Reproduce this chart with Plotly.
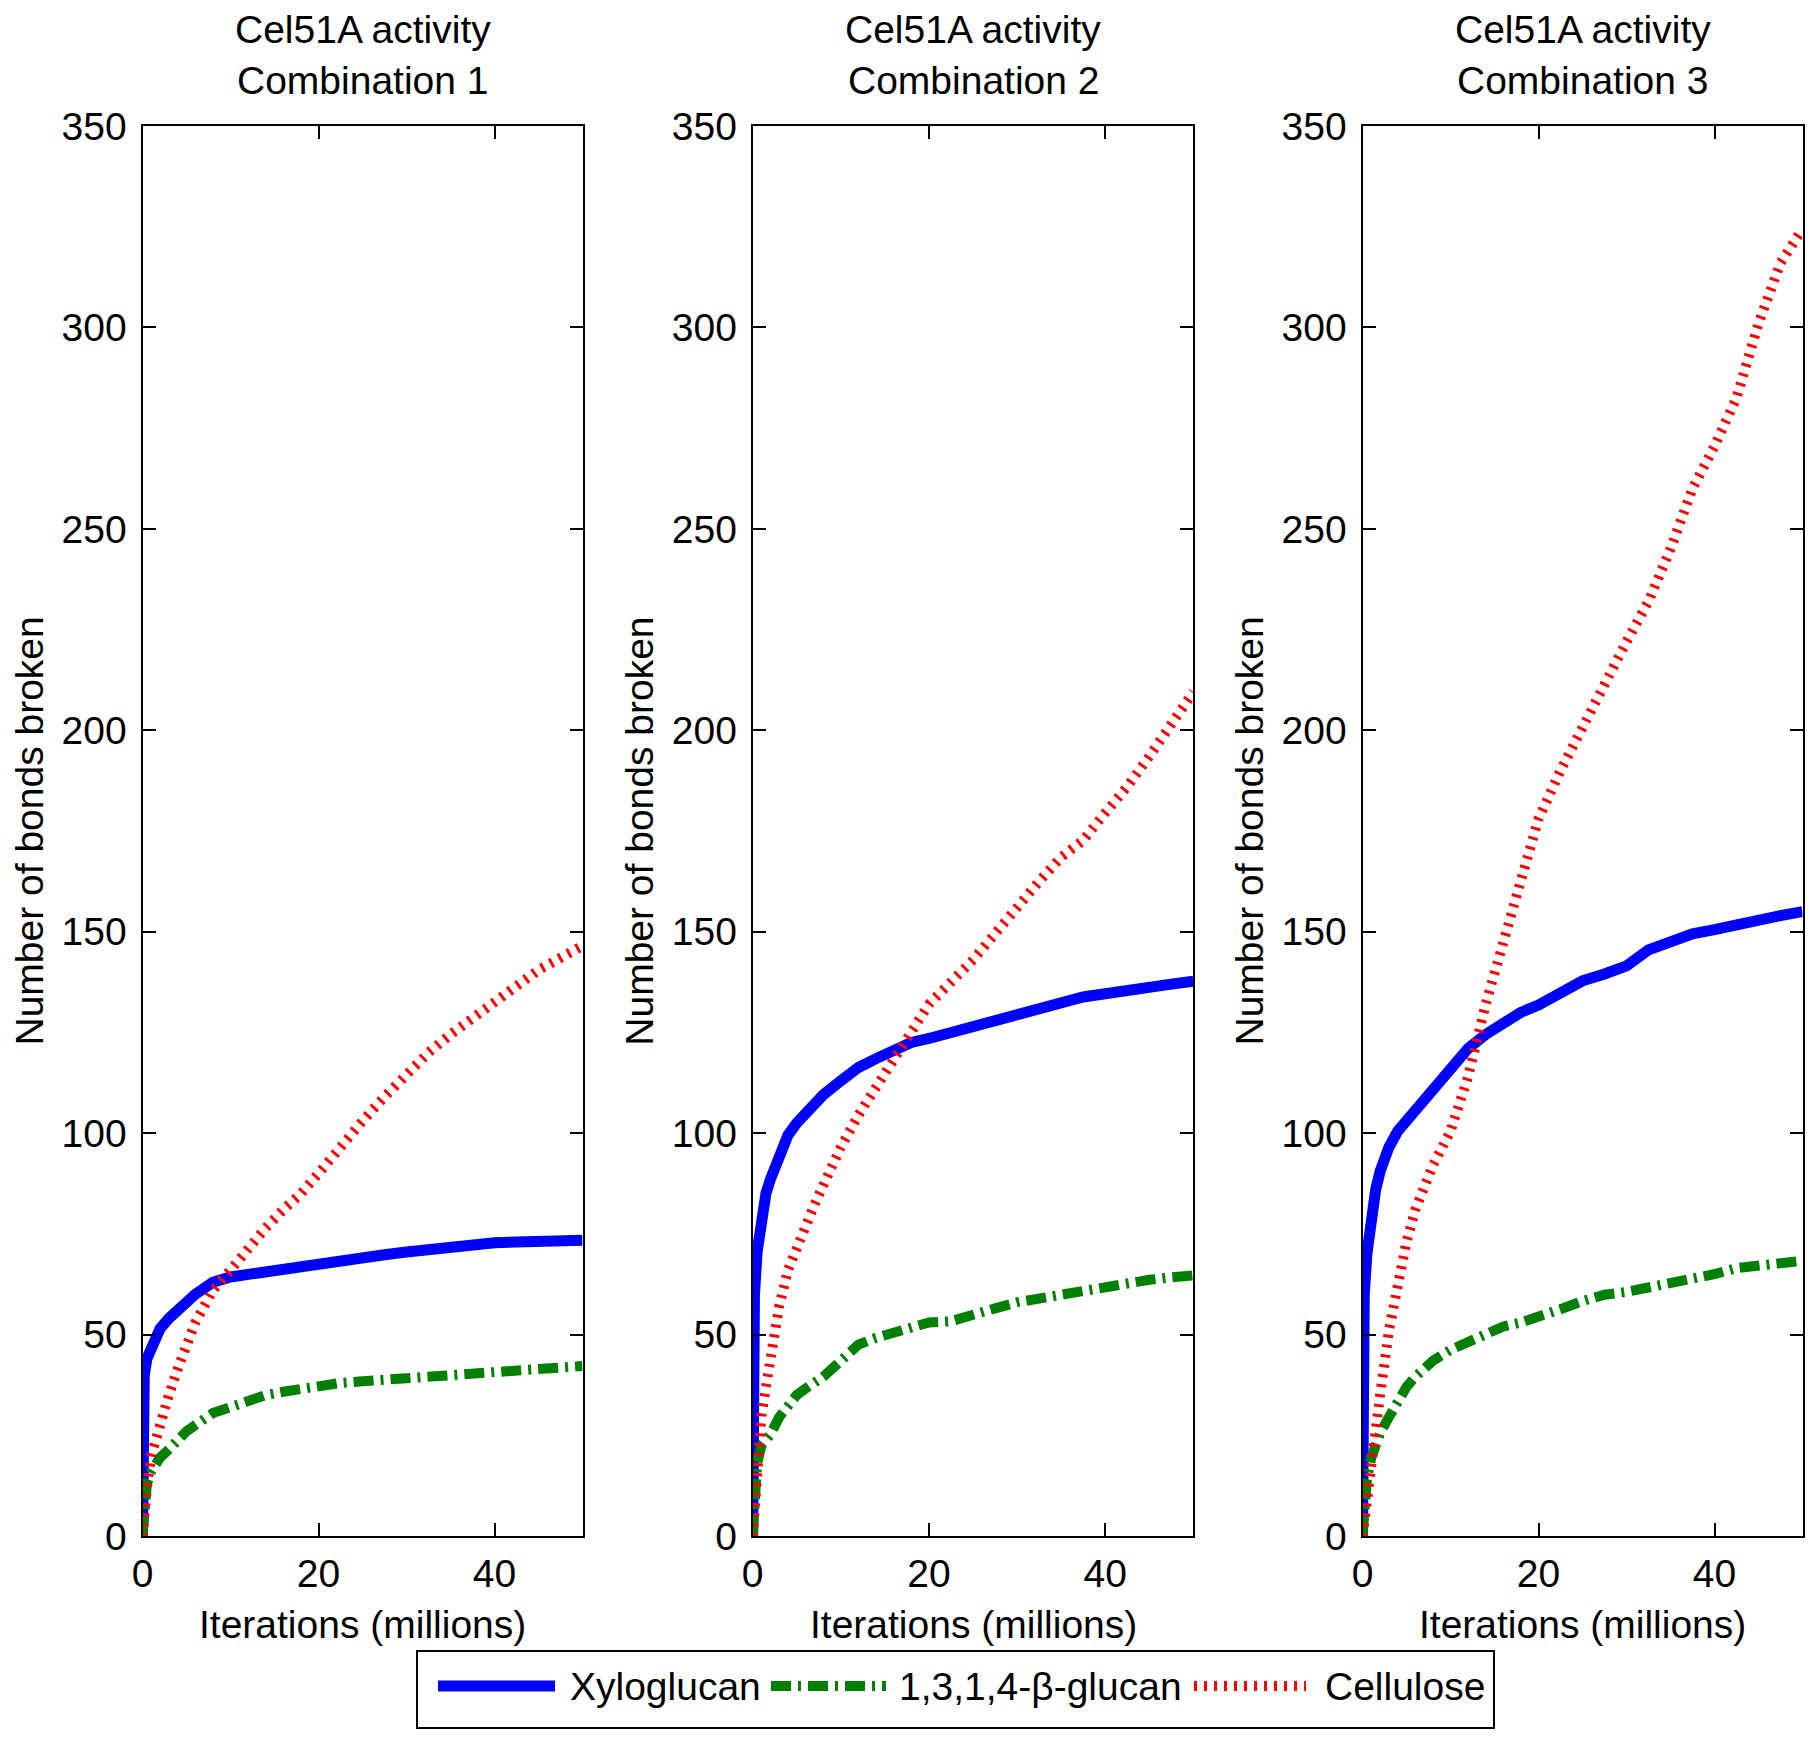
import plotly.graph_objects as go

# ---------------- data ----------------
iterations = [0, 0.1, 0.2, 0.5, 1, 1.5, 2, 3, 4, 5, 6, 7, 8, 10, 12, 14, 16, 18, 20,
              22.5, 25, 27.5, 30, 32.5, 35, 37.5, 40, 42.5, 45, 47.5, 50]

xyloglucan_c1 = [0, 25, 40, 44, 47, 49.5, 51.5, 54, 56, 58.5, 60, 61.5, 63, 64.3, 65, 65.5,
                 66, 66.8, 67.5, 68.3, 69, 69.8, 70.5, 71.2, 72, 72.4, 72.8, 73, 73.1, 73.2, 73.4]
glucan_c1 = [0, 5, 9, 13, 16, 18, 19.5, 21.5, 24, 26, 27.5, 29, 30.5, 32, 33.5, 35, 35.8,
             36.6, 37.3, 38, 38.4, 38.8, 39.2, 39.8, 40.3, 40.8, 41.2, 41.6, 41.8, 42, 42.2]
cellulose_c1 = [0, 3, 6, 12, 20, 24, 28, 35, 41.5, 48, 53, 57, 61, 66, 71.5, 76.5, 81, 85,
                90, 97, 103, 109, 114.5, 120, 124.5, 128.5, 132.7, 136.5, 140.5, 143.5, 146.5]

xyloglucan_c2 = [0, 50, 60, 70.5, 79, 85, 88.5, 95, 99.5, 102.5, 105, 107.5, 109.5, 113, 116.3,
                 118.5, 120.5, 122.5, 123.5, 125, 126.5, 128, 129.2, 130.6, 132.2, 133.8, 134.6,
                 135.2, 136, 137, 137.7]
glucan_c2 = [0, 6, 12, 18, 22.5, 24, 25.2, 29.5, 32.5, 35, 36.6, 38, 39.5, 43.5, 47.5, 49.2,
             50.6, 52, 53, 53.3, 54.6, 56.5, 58, 59, 59.7, 61, 62, 62.8, 63.6, 64.2, 64.7]
cellulose_c2 = [0, 4, 8, 14, 30, 37, 43.4, 57, 66, 72, 77.5, 82.2, 87, 96.5, 104.5, 111.5, 118,
                125, 132, 137.5, 143, 149.5, 156.5, 162.5, 168.5, 172.7, 179.5, 186, 193.5,
                201.5, 209.5]

xyloglucan_c3 = [0, 45, 60, 70, 79, 86, 90.5, 96.5, 100.5, 103, 106, 108.5, 111, 116.5, 121,
                 124.5, 127.5, 130, 131.8, 135, 137.8, 139.5, 141.5, 145.5, 147.8, 149.5, 150.5,
                 151.8, 152.8, 154, 155]
glucan_c3 = [0, 3, 5, 14, 19.5, 22.5, 25.5, 29.5, 33.5, 37, 39.5, 41.7, 43.5, 46.2, 48.3, 50.2,
             52, 53, 54.2, 56.3, 58.3, 59.9, 60.6, 61.6, 63, 63.8, 65, 66.5, 67.3, 67.8, 68.3]
cellulose_c3 = [0, 2, 4, 8, 20, 28, 35, 51, 63, 73, 81, 87, 92, 100.5, 114, 132, 147, 163.5,
                178, 190, 201, 211, 222, 232, 245, 260, 270.5, 282.5, 301, 316, 324.5]

panel_titles = [["Cel51A activity", "Combination 1"],
                ["Cel51A activity", "Combination 2"],
                ["Cel51A activity", "Combination 3"]]
series_names = ["Xyloglucan", "1,3,1,4-\u03b2-glucan", "Cellulose"]
x_title = "Iterations (millions)"
y_title = "Number of bonds broken"
x_ticks = [0, 20, 40]
y_ticks = [0, 50, 100, 150, 200, 250, 300, 350]

panels = [
    [xyloglucan_c1, glucan_c1, cellulose_c1],
    [xyloglucan_c2, glucan_c2, cellulose_c2],
    [xyloglucan_c3, glucan_c3, cellulose_c3],
]

# ---------------- styling ----------------
W, H = 1819, 1738
FONT = "Liberation Sans, Arial, Helvetica, sans-serif"
FS = 39
colors = ["#0000FF", "#008000", "#FF0000"]
widths = [11, 10, 10]
dashes = ["solid", "20px,7px,3px,7px", "3px,7px"]

x_domains = [(142.5, 582.5), (752.7, 1193.3), (1362.5, 1802.5)]
y_top, y_bot = 126, 1536


def px_x(v):
    return v / W


def px_y(v):
    return 1 - v / H


fig = go.Figure()

for i, series in enumerate(panels):
    xa = "x" if i == 0 else f"x{i+1}"
    ya = "y" if i == 0 else f"y{i+1}"
    for j, vals in enumerate(series):
        fig.add_trace(go.Scatter(
            x=iterations, y=vals, mode="lines", name=series_names[j],
            xaxis=xa, yaxis=ya, showlegend=False,
            line=dict(color=colors[j], width=widths[j], dash=dashes[j]),
        ))

axis_common = dict(
    showline=True, linecolor="black", linewidth=2, mirror="ticks",
    ticks="inside", ticklen=13, tickwidth=2, tickcolor="black",
    showgrid=False, zeroline=False, automargin=False,
    tickfont=dict(family=FONT, size=FS, color="black"),
)

layout = dict(
    width=W, height=H,
    margin=dict(l=0, r=0, t=0, b=0, pad=0, autoexpand=False),
    paper_bgcolor="white", plot_bgcolor="white",
    font=dict(family=FONT, size=FS, color="black"),
    showlegend=False,
)

annotations = []
for i in range(3):
    xk = "xaxis" if i == 0 else f"xaxis{i+1}"
    yk = "yaxis" if i == 0 else f"yaxis{i+1}"
    x0, x1 = x_domains[i]
    layout[xk] = dict(
        domain=[px_x(x0), px_x(x1)], range=[0, 50], tickvals=x_ticks,
        anchor="y" if i == 0 else f"y{i+1}", ticklabelstandoff=2, **axis_common)
    layout[yk] = dict(
        domain=[px_y(y_bot), px_y(y_top)], range=[0, 350], tickvals=y_ticks,
        anchor="x" if i == 0 else f"x{i+1}", ticklabelstandoff=6, **axis_common)
    cx = px_x((x0 + x1) / 2)
    annotations.append(dict(text=panel_titles[i][0], x=cx, y=px_y(30), xref="paper", yref="paper",
                            xanchor="center", yanchor="middle", showarrow=False,
                            font=dict(family=FONT, size=FS, color="black")))
    annotations.append(dict(text=panel_titles[i][1], x=cx, y=px_y(80), xref="paper", yref="paper",
                            xanchor="center", yanchor="middle", showarrow=False,
                            font=dict(family=FONT, size=FS, color="black")))
    annotations.append(dict(text=x_title, x=cx, y=px_y(1624), xref="paper", yref="paper",
                            xanchor="center", yanchor="middle", showarrow=False,
                            font=dict(family=FONT, size=FS, color="black")))
    annotations.append(dict(text=y_title, x=px_x(x0 - 113), y=px_y((y_top + y_bot) / 2),
                            xref="paper", yref="paper", textangle=-90,
                            xanchor="center", yanchor="middle", showarrow=False,
                            font=dict(family=FONT, size=FS, color="black")))

# ---------------- legend (drawn as a boxed key) ----------------
shapes = [dict(type="rect", xref="paper", yref="paper",
               x0=px_x(417), x1=px_x(1494), y0=px_y(1728), y1=px_y(1651),
               line=dict(color="black", width=2), fillcolor="white", layer="below")]
legend_items = [(438, 555, 568), (771, 886, 897), (1194, 1306, 1323)]
ly = 1686
for j, (a, b, t) in enumerate(legend_items):
    shapes.append(dict(type="line", xref="paper", yref="paper",
                       x0=px_x(a), x1=px_x(b), y0=px_y(ly), y1=px_y(ly),
                       line=dict(color=colors[j], width=widths[j], dash=dashes[j])))
    annotations.append(dict(text=series_names[j], x=px_x(t), y=px_y(ly), xref="paper", yref="paper",
                            xanchor="left", yanchor="middle", showarrow=False,
                            font=dict(family=FONT, size=FS, color="black")))

layout["annotations"] = annotations
layout["shapes"] = shapes
fig.update_layout(**layout)

fig.write_html(
    "out.html",
    config={"displayModeBar": False},
    post_script="document.body.style.margin='0px';document.body.style.overflow='hidden';",
)
